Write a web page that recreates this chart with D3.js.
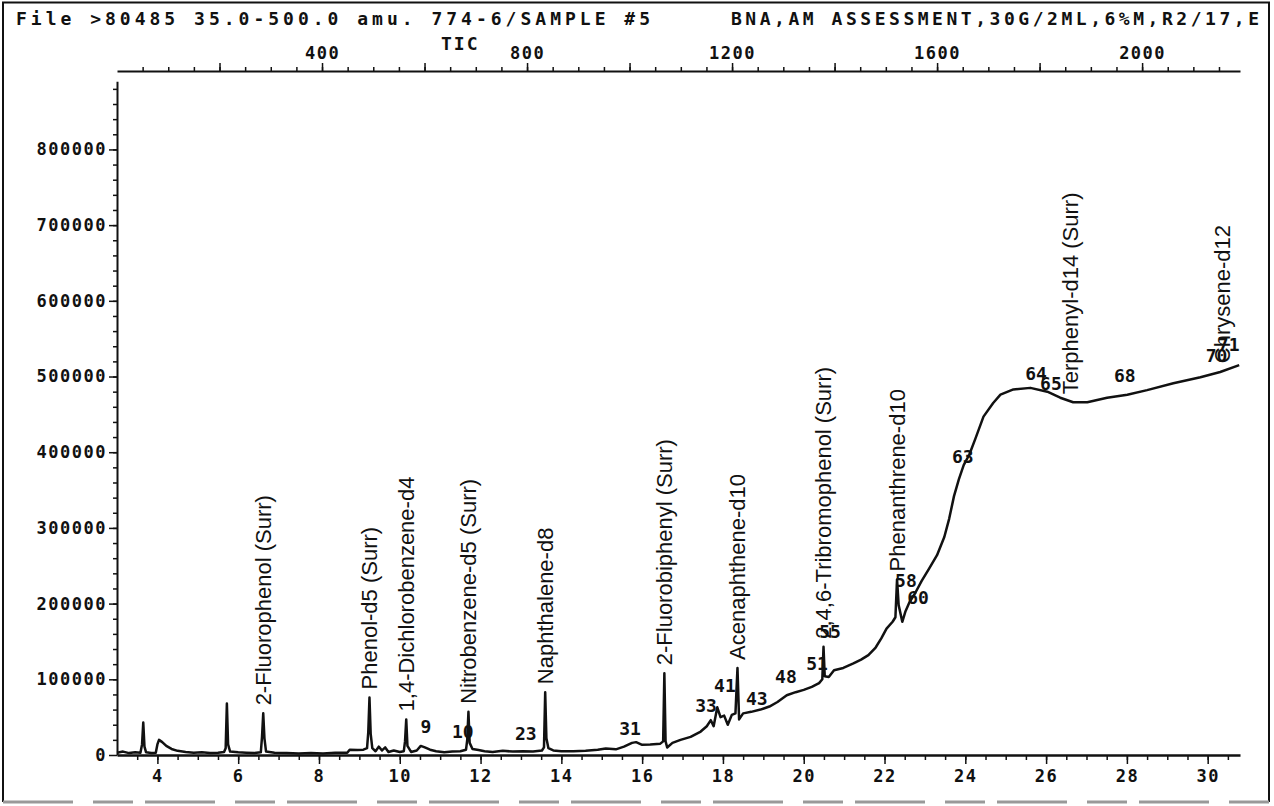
<!DOCTYPE html>
<html>
<head>
<meta charset="utf-8">
<script src="https://cdn.jsdelivr.net/npm/d3@7"></script>
<style>
  html, body { margin: 0; padding: 0; background: #fff; }
  svg { display: block; }
  .mono { font-family: "DejaVu Sans Mono", "Liberation Mono", monospace; fill: #111; font-weight: bold; }
  .axis path, .axis line { stroke: #111; }
</style>
</head>
<body>
<svg id="chart" width="1274" height="806"></svg>
<script>
// Total ion chromatogram: retention time (min) and TIC abundance
const retentionTime = [
  3.00, 3.15, 3.30, 3.45, 3.58, 3.62, 3.65, 3.68, 3.72, 3.85, 3.96, 4.00, 4.04, 4.12, 4.22, 4.35,
  4.50, 4.70, 4.90, 5.10, 5.30, 5.50, 5.65, 5.69, 5.72, 5.75, 5.80, 6.00, 6.20, 6.40, 6.56, 6.59,
  6.62, 6.65, 6.69, 6.90, 7.20, 7.50, 7.80, 8.10, 8.40, 8.70, 8.76, 8.95, 9.10, 9.19, 9.22, 9.25,
  9.28, 9.32, 9.40, 9.48, 9.56, 9.64, 9.72, 9.85, 10.00, 10.10, 10.13, 10.16, 10.19, 10.28, 10.42,
  10.52, 10.62, 10.75, 10.90, 11.10, 11.30, 11.50, 11.64, 11.67, 11.70, 11.73, 11.80, 11.95, 12.10,
  12.30, 12.55, 12.80, 13.05, 13.30, 13.52, 13.57, 13.60, 13.63, 13.68, 13.80, 14.00, 14.30, 14.60,
  14.90, 15.10, 15.35, 15.55, 15.75, 15.85, 16.00, 16.20, 16.45, 16.52, 16.55, 16.58, 16.62, 16.75,
  16.95, 17.20, 17.45, 17.60, 17.70, 17.77, 17.86, 17.94, 18.03, 18.12, 18.22, 18.31, 18.36, 18.40,
  18.50, 18.70, 18.93, 19.15, 19.35, 19.58, 19.80, 20.00, 20.20, 20.38, 20.46, 20.49, 20.52, 20.62,
  20.75, 20.98, 21.23, 21.42, 21.60, 21.78, 21.92, 22.05, 22.20, 22.27, 22.31, 22.35, 22.44, 22.52,
  22.62, 22.76, 22.92, 23.10, 23.30, 23.48, 23.60, 23.72, 23.84, 23.96, 24.10, 24.25, 24.45, 24.69,
  24.87, 25.19, 25.61, 26.03, 26.35, 26.67, 27.02, 27.51, 28.01, 28.50, 29.15, 29.82, 30.31, 30.78
];
const ticCounts = [
  3000, 4500, 2500, 3500, 3000, 14000, 43000, 11000, 3500, 2500, 3000, 14000, 20000, 17000, 12000, 8000,
  5500, 4000, 3000, 3500, 2500, 3000, 4000, 9000, 68000, 14000, 4500, 3500, 3000, 2500, 3500, 24000,
  55000, 22000, 4500, 3000, 2500, 2000, 2500, 2000, 3000, 3000, 7000, 6500, 7000, 9000, 30000, 76000,
  28000, 9000, 5000, 11000, 6000, 10000, 4000, 6000, 4000, 5000, 18000, 47000, 12000, 4000, 6000,
  12000, 10000, 7000, 5000, 3500, 4500, 5000, 7000, 20000, 57000, 16000, 8000, 6500, 5000,
  4000, 5500, 4500, 5000, 4500, 6000, 10000, 83000, 22000, 9000, 6000, 5000, 5000, 5500,
  7000, 8500, 7500, 11000, 16000, 17000, 13500, 14000, 15000, 18000, 108000, 18000, 10000, 16000,
  20000, 24000, 31000, 38000, 46000, 38000, 63000, 50000, 52000, 40000, 53000, 55000, 115000, 47000,
  55000, 57000, 60000, 64000, 70000, 79000, 83000, 86000, 90000, 95000, 100000, 143000, 104000, 103000,
  112000, 115000, 121000, 126000, 132000, 142000, 154000, 167000, 176000, 182000, 232000, 198000, 176000, 190000,
  202000, 214000, 230000, 246000, 264000, 288000, 312000, 342000, 364000, 383000, 397000, 418000, 447000, 465000,
  476000, 483000, 485000, 480000, 472000, 466000, 466000, 472000, 476000, 482000, 491000, 499000, 506000, 515000
];

// Identified compounds: name, retention time, apex abundance
const compoundNames = [
  "2-Fluorophenol (Surr)", "Phenol-d5 (Surr)", "1,4-Dichlorobenzene-d4", "Nitrobenzene-d5 (Surr)",
  "Naphthalene-d8", "2-Fluorobiphenyl (Surr)", "Acenaphthene-d10", "2,4,6-Tribromophenol (Surr)",
  "Phenanthrene-d10", "Terphenyl-d14 (Surr)", "Chrysene-d12"
];
const compoundTimes = [6.62, 9.25, 10.16, 11.70, 13.60, 16.55, 18.36, 20.49, 22.31, 26.60, 30.35];
const compoundApex = [55000, 76000, 47000, 57000, 83000, 108000, 115000, 143000, 232000, 466000, 507000];

// Peak numbers written beside the trace (time, abundance level of the number's baseline)
const peakNumbers = ["9", "10", "23", "31", "33", "41", "43", "48", "51", "55", "58", "60", "63", "64", "65", "68", "70", "71"];
const peakNumberTimes = [10.65, 11.56, 13.12, 15.70, 17.58, 18.05, 18.84, 19.56, 20.33, 20.65, 22.53, 22.83, 23.94, 25.75, 26.12, 27.95, 30.22, 30.52];
const peakNumberLevels = [29000, 22500, 19800, 26400, 56800, 83200, 66000, 95100, 112300, 154500, 222000, 200000, 385700, 495400, 482000, 492700, 519000, 534000];

// Axis ticks
const timeTickLabels = [4, 6, 8, 10, 12, 14, 16, 18, 20, 22, 24, 26, 28, 30];
const countTickLabels = [0, 100000, 200000, 300000, 400000, 500000, 600000, 700000, 800000];
const scanTickLabels = [400, 800, 1200, 1600, 2000];

// Header text
const headerLeft = "File >80485  35.0-500.0 amu. 774-6/SAMPLE #5";
const headerRight = "BNA,AM ASSESSMENT,30G/2ML,6%M,R2/17,E";
const traceName = "TIC";

const svg = d3.select("#chart");
const W = 1274, H = 806;

// Page frame
svg.append("path")
  .attr("d", `M3,${H - 4} V2.5 H${W - 5} V${H - 4}`)
  .attr("fill", "none").attr("stroke", "#111").attr("stroke-width", 2);
svg.append("line")
  .attr("x1", 3).attr("x2", W - 5).attr("y1", H - 4).attr("y2", H - 4)
  .attr("stroke", "#999").attr("stroke-width", 3).attr("stroke-dasharray", "70 20 40 12");

// Scales
const left = 117, right = 1240, base = 755, topY = 81.3;
const x = d3.scaleLinear().domain([3.0, 30.8]).range([left, right]);
const y = d3.scaleLinear().domain([0, 890000]).range([base, topY]);
const scan = d3.scaleLinear().domain([0, 2191]).range([left, right]);

// Header
svg.append("text").attr("class", "mono").attr("x", 16).attr("y", 25)
  .attr("font-size", 18).attr("textLength", 634).attr("lengthAdjust", "spacing")
  .text(headerLeft);
svg.append("text").attr("class", "mono").attr("x", 731).attr("y", 25)
  .attr("font-size", 18).attr("textLength", 528).attr("lengthAdjust", "spacing")
  .text(headerRight);
svg.append("text").attr("class", "mono").attr("x", 441).attr("y", 50)
  .attr("font-size", 18).attr("letter-spacing", 2)
  .text(traceName);

const tickFont = g => g.selectAll("text")
  .attr("class", "mono").attr("fill", "#111")
  .style("font-size", "17px").style("letter-spacing", "1.5px");

// Top axis: scan number
const topAxisY = 71;
svg.append("g").attr("class", "axis").attr("transform", `translate(0,${topAxisY})`)
  .call(d3.axisTop(scan).tickValues(d3.range(50, 2191, 50)).tickSize(4).tickSizeOuter(0).tickFormat(""))
  .call(g => g.select(".domain").attr("stroke-width", 2))
  .call(g => g.selectAll("line").attr("stroke-width", 1.5));
svg.append("g").attr("class", "axis").attr("transform", `translate(0,${topAxisY})`)
  .call(d3.axisTop(scan).tickValues(d3.range(200, 2191, 200)).tickSize(8).tickPadding(4)
    .tickFormat(d => scanTickLabels.includes(d) ? d : ""))
  .call(g => g.select(".domain").remove())
  .call(g => g.selectAll("line").attr("stroke-width", 1.5))
  .call(tickFont);

// Bottom axis: retention time
svg.append("g").attr("class", "axis").attr("transform", `translate(0,${base})`)
  .call(d3.axisBottom(x).tickValues(d3.range(3.5, 30.8, 0.5)).tickSize(5).tickSizeOuter(0).tickFormat(""))
  .call(g => g.select(".domain").attr("stroke-width", 2.5))
  .call(g => g.selectAll("line").attr("stroke-width", 1.5));
svg.append("g").attr("class", "axis").attr("transform", `translate(0,${base})`)
  .call(d3.axisBottom(x).tickValues(timeTickLabels).tickSize(9).tickPadding(6).tickFormat(d3.format("d")))
  .call(g => g.select(".domain").remove())
  .call(g => g.selectAll("line").attr("stroke-width", 1.5))
  .call(tickFont);

// Left axis: abundance
svg.append("g").attr("class", "axis").attr("transform", `translate(${left},0)`)
  .call(d3.axisLeft(y).tickValues(d3.range(20000, 890000, 20000)).tickSize(4).tickSizeOuter(0).tickFormat(""))
  .call(g => g.select(".domain").attr("stroke-width", 2))
  .call(g => g.selectAll("line").attr("stroke-width", 1.5));
svg.append("g").attr("class", "axis").attr("transform", `translate(${left},0)`)
  .call(d3.axisLeft(y).tickValues(countTickLabels).tickSize(8).tickPadding(2).tickFormat(d3.format("d")))
  .call(g => g.select(".domain").remove())
  .call(g => g.selectAll("line").attr("stroke-width", 1.5))
  .call(tickFont);

// Trace
const points = retentionTime.map((t, i) => [t, ticCounts[i]]);
svg.append("path")
  .datum(points)
  .attr("fill", "none")
  .attr("stroke", "#111")
  .attr("stroke-width", 2.5)
  .attr("stroke-linejoin", "round")
  .attr("d", d3.line().x(d => x(d[0])).y(d => y(d[1])));

// Compound names, written upward from just above each peak apex
svg.append("g").selectAll("text")
  .data(compoundNames)
  .join("text")
  .attr("transform", (d, i) => `translate(${x(compoundTimes[i])},${y(compoundApex[i]) - 8}) rotate(-90)`)
  .attr("dy", "0.35em")
  .attr("fill", "#111")
  .style("font-family", "'Liberation Sans', Arial, sans-serif")
  .style("font-size", "22px")
  .text(d => d);

// Peak numbers
svg.append("g").selectAll("text")
  .data(peakNumbers)
  .join("text")
  .attr("class", "mono")
  .attr("x", (d, i) => x(peakNumberTimes[i]))
  .attr("y", (d, i) => y(peakNumberLevels[i]))
  .attr("text-anchor", "middle")
  .style("font-size", "18px")
  .text(d => d);
</script>
</body>
</html>
